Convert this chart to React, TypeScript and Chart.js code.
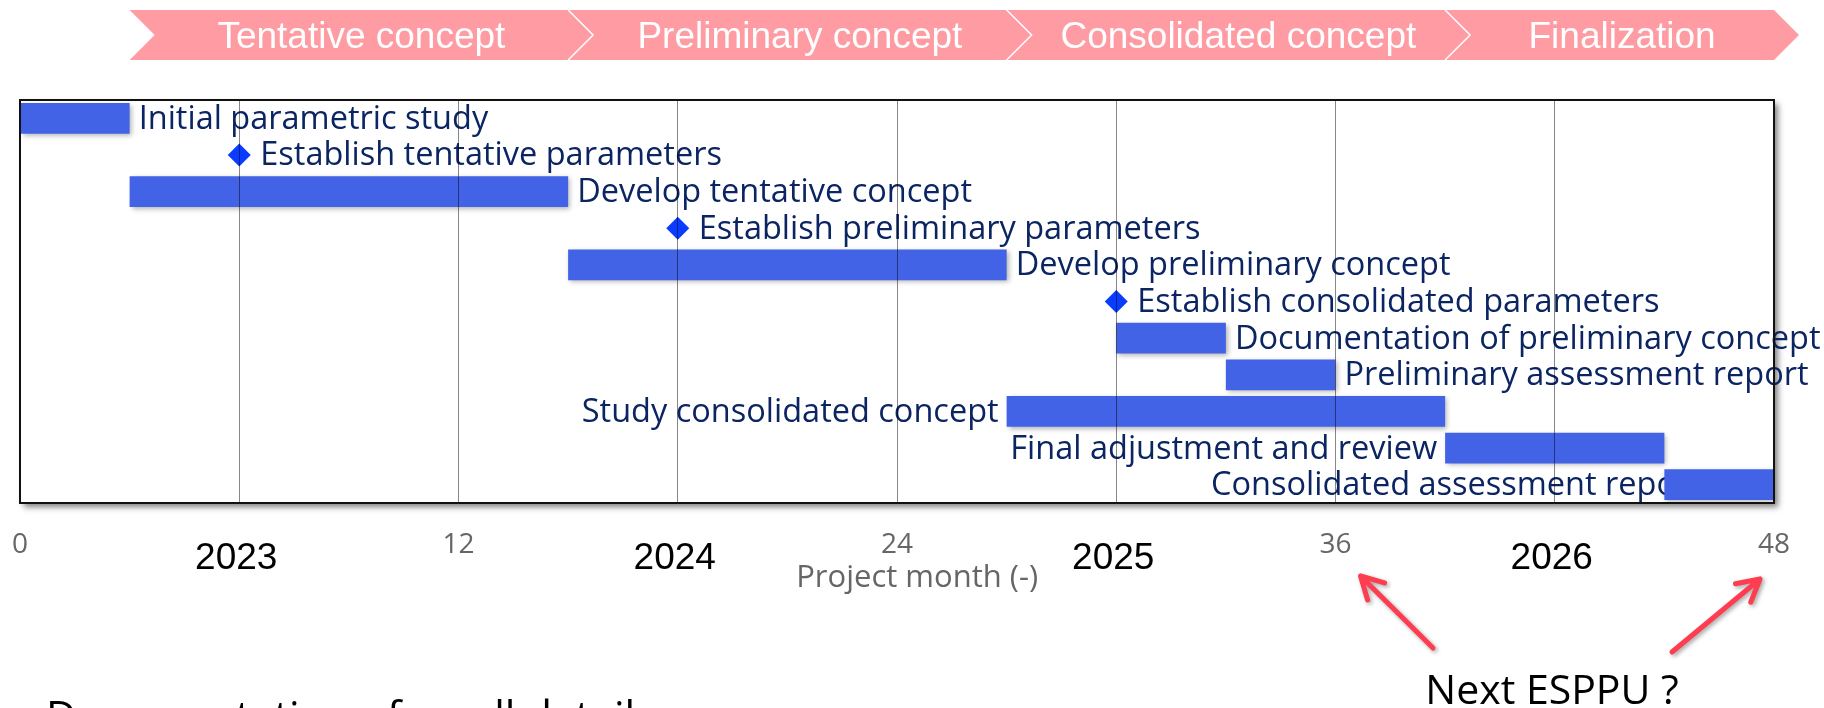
import React, { useEffect, useRef } from 'react';
import { Chart, registerables } from 'chart.js';

Chart.register(...registerables);

// ---------- data ----------
const taskLabels = [
  'Initial parametric study',
  'Establish tentative parameters',
  'Develop tentative concept',
  'Establish preliminary parameters',
  'Develop preliminary concept',
  'Establish consolidated parameters',
  'Documentation of preliminary concept',
  'Preliminary assessment report',
  'Study consolidated concept',
  'Final adjustment and review',
  'Consolidated assessment report',
];
const barStartMonth: (number | null)[] = [0, null, 3, null, 15, null, 30, 33, 27, 39, 45];
const barEndMonth: (number | null)[] = [3, null, 15, null, 27, null, 33, 36, 39, 45, 48];
const milestoneMonth: (number | null)[] = [null, 6, null, 18, null, 30, null, null, null, null, null];
const labelSide = ['right', 'right', 'right', 'right', 'right', 'right', 'right', 'right', 'left', 'left', 'under'];

const phaseNames = ['Tentative concept', 'Preliminary concept', 'Consolidated concept', 'Finalization'];
const phaseStartMonth = [3, 15, 27, 39];
const phaseEndMonth = [15, 27, 39, 48];

const yearLabels = ['2023', '2024', '2025', '2026'];
const yearMonth = [6, 18, 30, 42];

const labeledMonthTicks = [0, 12, 24, 36, 48];
const axisTitle = 'Project month (-)';
const calloutText = 'Next ESPPU ?';
const calloutMonths = [36, 48];
const footerText = 'Documentation of small details';

// ---------- styles ----------
const LABEL_FONT = "32.5px 'Open Sans', sans-serif";
const LABEL_COLOR = '#0B2462';
const BAR_COLOR = '#4263E6';
const DIAMOND_COLOR = '#0A3CFF';
const BANNER_COLOR = '#FF9BA3';

const decorPlugin = {
  id: 'ganttDecor',
  beforeDraw(chart: any) {
    const { ctx, chartArea: a, scales } = chart;
    const x = scales.x;
    ctx.save();
    ctx.fillStyle = '#ffffff';
    ctx.fillRect(0, 0, chart.width, chart.height);
    ctx.shadowColor = 'rgba(0,0,0,0.5)';
    ctx.shadowBlur = 6;
    ctx.shadowOffsetX = 4;
    ctx.shadowOffsetY = 4;
    ctx.fillRect(a.left, a.top, a.right - a.left, a.bottom - a.top);
    ctx.restore();

    // phase banner
    const top = 10, bot = 60, mid = 35, d = 25;
    ctx.save();
    ctx.fillStyle = BANNER_COLOR;
    phaseNames.forEach((_, i) => {
      const x0 = x.getPixelForValue(phaseStartMonth[i]);
      const x1 = x.getPixelForValue(phaseEndMonth[i]);
      ctx.beginPath();
      ctx.moveTo(x0, top);
      ctx.lineTo(x1, top);
      ctx.lineTo(x1 + d, mid);
      ctx.lineTo(x1, bot);
      ctx.lineTo(x0, bot);
      ctx.lineTo(x0 + d, mid);
      ctx.closePath();
      ctx.fill();
    });
    ctx.strokeStyle = '#ffffff';
    ctx.lineWidth = 1.5;
    for (let i = 1; i < phaseNames.length; i++) {
      const x0 = x.getPixelForValue(phaseStartMonth[i]);
      ctx.beginPath();
      ctx.moveTo(x0, top);
      ctx.lineTo(x0 + d, mid);
      ctx.lineTo(x0, bot);
      ctx.stroke();
    }
    ctx.fillStyle = '#ffffff';
    ctx.font = "37px 'Liberation Sans', Arial, sans-serif";
    ctx.textAlign = 'center';
    ctx.textBaseline = 'alphabetic';
    phaseNames.forEach((name, i) => {
      const x0 = x.getPixelForValue(phaseStartMonth[i]);
      const x1 = x.getPixelForValue(phaseEndMonth[i]);
      ctx.fillText(name, (x0 + x1) / 2 + d / 2, 48);
    });
    ctx.restore();
  },
  beforeDatasetsDraw(chart: any) {
    const { ctx, scales } = chart;
    const x = scales.x, y = scales.y;
    ctx.save();
    ctx.font = LABEL_FONT;
    ctx.fillStyle = LABEL_COLOR;
    ctx.textBaseline = 'alphabetic';
    taskLabels.forEach((label, i) => {
      const cy = y.getPixelForValue(i) + 10.5;
      const m = milestoneMonth[i];
      const s = barStartMonth[i];
      const e = barEndMonth[i];
      if (m != null) {
        ctx.textAlign = 'left';
        ctx.fillText(label, x.getPixelForValue(m) + 21, cy);
      } else if (labelSide[i] === 'right' && e != null) {
        ctx.textAlign = 'left';
        ctx.fillText(label, x.getPixelForValue(e) + 9, cy);
      } else if (labelSide[i] === 'left' && s != null) {
        ctx.textAlign = 'right';
        ctx.fillText(label, x.getPixelForValue(s) - 8, cy);
      } else if (s != null) {
        ctx.textAlign = 'right';
        ctx.fillText(label, x.getPixelForValue(s + 1), cy);
      }
    });
    ctx.restore();
  },
  beforeDatasetDraw(chart: any, args: any) {
    const ctx = chart.ctx;
    ctx.save();
    if (args.index === 0) {
      ctx.shadowColor = 'rgba(0,0,0,0.3)';
      ctx.shadowBlur = 5;
      ctx.shadowOffsetX = 2;
      ctx.shadowOffsetY = 2;
    }
  },
  afterDatasetDraw(chart: any) {
    chart.ctx.restore();
  },
  afterDraw(chart: any) {
    const { ctx, chartArea: a, scales } = chart;
    const x = scales.x;
    ctx.save();
    ctx.strokeStyle = '#111111';
    ctx.lineWidth = 2;
    ctx.strokeRect(a.left, a.top, a.right - a.left, a.bottom - a.top);

    // year labels
    ctx.fillStyle = '#000000';
    ctx.font = "37px 'Liberation Sans', Arial, sans-serif";
    ctx.textAlign = 'center';
    ctx.textBaseline = 'alphabetic';
    yearLabels.forEach((yl, i) => ctx.fillText(yl, x.getPixelForValue(yearMonth[i]) - 3, 569));

    // callout
    ctx.font = "41px 'Open Sans', sans-serif";
    ctx.fillText(calloutText, 1552, 704);

    ctx.textAlign = 'left';
    ctx.font = "42px 'Open Sans', sans-serif";
    ctx.fillText(footerText, 46, 731);
    ctx.restore();

    const drawArrow = (fx: number, fy: number, tx: number, ty: number) => {
      ctx.save();
      ctx.strokeStyle = '#FF3D50';
      ctx.lineWidth = 5;
      ctx.lineCap = 'round';
      ctx.lineJoin = 'round';
      ctx.shadowColor = 'rgba(0,0,0,0.35)';
      ctx.shadowBlur = 4;
      ctx.shadowOffsetX = 2;
      ctx.shadowOffsetY = 2;
      const ang = Math.atan2(ty - fy, tx - fx);
      const L = 25, sp = 0.5;
      ctx.beginPath();
      ctx.moveTo(fx, fy);
      ctx.lineTo(tx, ty);
      ctx.moveTo(tx - L * Math.cos(ang - sp), ty - L * Math.sin(ang - sp));
      ctx.lineTo(tx, ty);
      ctx.lineTo(tx - L * Math.cos(ang + sp), ty - L * Math.sin(ang + sp));
      ctx.stroke();
      ctx.restore();
    };
    drawArrow(1433, 648, x.getPixelForValue(calloutMonths[0]) + 25, 576);
    drawArrow(1672, 652, x.getPixelForValue(calloutMonths[1]) - 14, 579);
  },
};

export default function App() {
  const ref = useRef<HTMLCanvasElement>(null);
  useEffect(() => {
    document.body.style.margin = '0';
    const canvas = ref.current;
    if (!canvas) return;
    Chart.defaults.font.family = "'Open Sans', sans-serif";

    const barData = taskLabels.map((_, i) =>
      barStartMonth[i] == null ? null : [barStartMonth[i] as number, barEndMonth[i] as number]
    );
    const milestoneData = taskLabels
      .map((label, i) => (milestoneMonth[i] == null ? null : { x: milestoneMonth[i] as number, y: label }))
      .filter((p) => p !== null);

    const chart = new Chart(canvas, {
      type: 'bar',
      data: {
        labels: taskLabels,
        datasets: [
          {
            type: 'bar',
            data: barData as any,
            backgroundColor: BAR_COLOR,
            borderWidth: 0,
            borderSkipped: false,
            barPercentage: 0.84,
            categoryPercentage: 1.0,
            indexAxis: 'y',
          } as any,
          {
            type: 'line',
            data: milestoneData as any,
            showLine: false,
            pointStyle: 'rectRot',
            pointRadius: 11.5,
            pointHoverRadius: 11.5,
            backgroundColor: DIAMOND_COLOR,
            borderColor: DIAMOND_COLOR,
            pointBorderWidth: 0,
            indexAxis: 'y',
          } as any,
        ],
      },
      options: {
        indexAxis: 'y',
        responsive: false,
        animation: false,
        events: [],
        layout: { padding: { left: 20, right: 50, top: 100, bottom: 0 } },
        plugins: { legend: { display: false }, tooltip: { enabled: false } },
        scales: {
          x: {
            type: 'linear',
            position: 'bottom',
            min: 0,
            max: 48,
            ticks: {
              stepSize: 6,
              autoSkip: false,
              maxRotation: 0,
              padding: 0,
              color: '#666666',
              font: { size: 28, family: "'Open Sans', sans-serif" },
              callback: (v: any) => (labeledMonthTicks.includes(Number(v)) ? String(v) : ''),
            },
            grid: {
              z: 1,
              drawTicks: true,
              tickLength: 25,
              tickColor: 'rgba(0,0,0,0)',
              lineWidth: 1,
              color: (c: any) =>
                c.tick && (c.tick.value === 0 || c.tick.value === 48) ? 'rgba(0,0,0,0)' : 'rgba(0,0,0,0.47)',
            },
            border: { display: false },
            title: {
              display: true,
              text: '\u00A0\u00A0\u00A0\u00A0\u00A0' + axisTitle,
              color: '#666666',
              font: { size: 31, family: "'Open Sans', sans-serif" },
              padding: { top: 0, bottom: 111 },
            },
            afterFit: (s: any) => {
              s.height = 205;
            },
          },
          y: {
            type: 'category',
            display: false,
            grid: { display: false },
          },
        },
      } as any,
      plugins: [decorPlugin],
    });
    return () => chart.destroy();
  }, []);

  return (
    <div style={{ width: 1824, height: 708, overflow: 'hidden' }}>
      <canvas ref={ref} width={1824} height={708} style={{ display: 'block' }} />
    </div>
  );
}
